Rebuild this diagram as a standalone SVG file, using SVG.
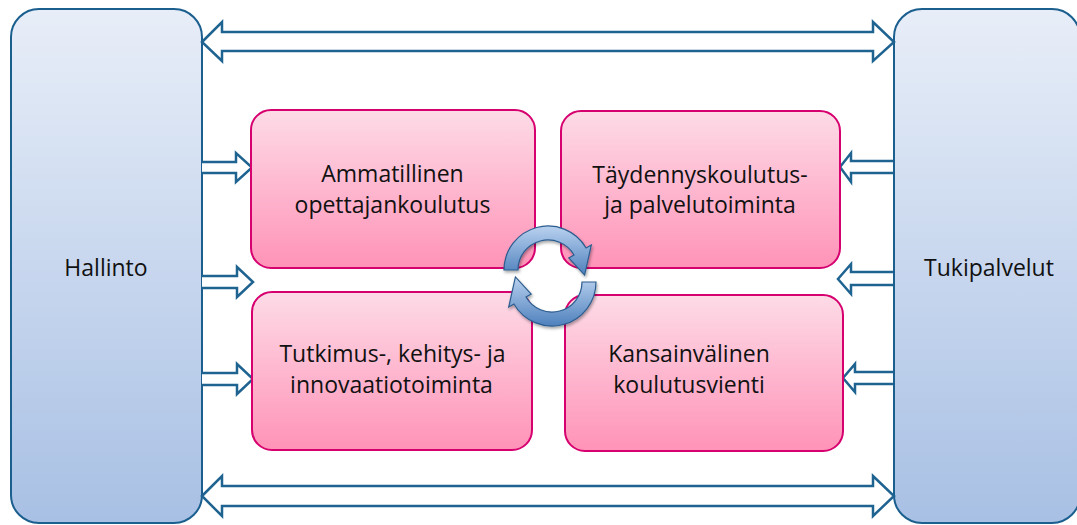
<svg xmlns="http://www.w3.org/2000/svg" width="1077" height="525" viewBox="0 0 1077 525">
<defs>
<linearGradient id="gBlue" x1="0" y1="0" x2="0" y2="1">
<stop offset="0" stop-color="#e8eef8"/>
<stop offset="1" stop-color="#a8c0e4"/>
</linearGradient>
<linearGradient id="gPink" x1="0" y1="0" x2="0" y2="1">
<stop offset="0" stop-color="#fddbe7"/>
<stop offset="1" stop-color="#ff93b8"/>
</linearGradient>
<linearGradient id="gCyc" x1="0" y1="0" x2="0" y2="1">
<stop offset="0" stop-color="#b9d1ef"/>
<stop offset="1" stop-color="#4f81bd"/>
</linearGradient>
<filter id="sh" x="-20%" y="-20%" width="140%" height="140%">
<feDropShadow dx="1" dy="2" stdDeviation="1.5" flood-color="#000" flood-opacity="0.35"/>
</filter>
</defs>
<style>
.side{fill:url(#gBlue);stroke:#1b5f8f;stroke-width:2}
.pink{fill:url(#gPink);stroke:#d6006f;stroke-width:2}
.arr{fill:#fff;stroke:#1f6391;stroke-width:2.5;stroke-linejoin:miter}
.cyc{fill:url(#gCyc);stroke:#2c5d8f;stroke-width:1.2;filter:url(#sh)}
text{font-family:"Open Sans","Liberation Sans",sans-serif;font-size:23px;fill:#111;text-anchor:middle}
</style>
<rect width="1077" height="525" fill="#fff"/>
<g id="hallinto">
<rect class="side" x="11" y="9" width="191" height="514" rx="28"/>
<text x="106" y="276">Hallinto</text>
</g>
<g id="tukipalvelut">
<rect class="side" x="894" y="9" width="186" height="514" rx="28"/>
<text x="989" y="276">Tukipalvelut</text>
</g>
<g id="connectors">
<path class="arr" d="M202,42 L222,22 L222,32 L873,32 L873,22 L894,42 L873,61 L873,51 L222,51 L222,61 Z"/>
<path class="arr" d="M202,496 L222,476 L222,486 L873,486 L873,476 L894,496 L873,516 L873,506 L222,506 L222,516 Z"/>
<path class="arr" d="M202,162 L236,162 L236,153 L252,167.5 L236,182 L236,173 L202,173"/>
<path class="arr" d="M202,276 L237,276 L237,267 L253,282 L237,297 L237,288 L202,288"/>
<path class="arr" d="M202,373 L237,373 L237,364 L253,379 L237,394 L237,385 L202,385"/>
<path class="arr" d="M893,161 L851,161 L851,153 L840,167 L851,182 L851,173 L893,173"/>
<path class="arr" d="M893,272 L851,272 L851,264 L838,279 L851,294 L851,285 L893,285"/>
<path class="arr" d="M893,372 L855,372 L855,364 L843,378 L855,392 L855,384 L893,384"/>
</g>
<g id="ammatillinen">
<rect class="pink" x="251" y="110" width="284" height="158" rx="20"/>
<text x="392.5" y="182">Ammatillinen</text>
<text x="392.5" y="213">opettajankoulutus</text>
</g>
<g id="taydennys">
<rect class="pink" x="561" y="111" width="279" height="157" rx="20"/>
<text x="700" y="183">Täydennyskoulutus-</text>
<text x="700" y="213">ja palvelutoiminta</text>
</g>
<g id="tutkimus">
<rect class="pink" x="252" y="292" width="280" height="158" rx="20"/>
<text x="392.5" y="362">Tutkimus-, kehitys- ja</text>
<text x="391.5" y="393">innovaatiotoiminta</text>
</g>
<g id="kansainvalinen">
<rect class="pink" x="565" y="295" width="278" height="156" rx="20"/>
<text x="689" y="362">Kansainvälinen</text>
<text x="689" y="393">koulutusvienti</text>
</g>
<g id="cycle">
<path class="cyc" d="M504,270 A44,44 0 0 1 586.1,248 L591.3,245 L584.6,275.1 L568.8,258 L574,255 A30,30 0 0 0 518,270 Z"/>
<path class="cyc" d="M596,282 A44,44 0 0 1 513.9,304 L508.7,307 L515.4,276.9 L531.2,294 L526,297 A30,30 0 0 0 582,282 Z"/>
</g>
</svg>
